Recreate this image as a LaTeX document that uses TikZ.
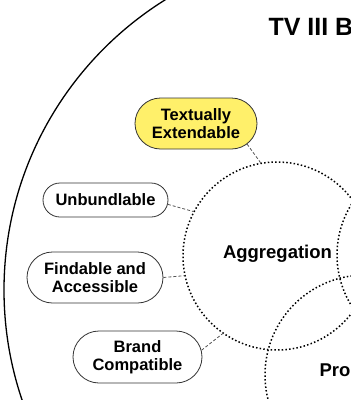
\documentclass[tikz,border=0pt]{standalone}
\usepackage{fontspec}
\setmainfont{Liberation Sans}
\usepackage{tikz}
\usetikzlibrary{shapes.misc}
\definecolor{bubbleFill}{HTML}{FFF06A}
\definecolor{bubbleLine}{HTML}{333333}
\definecolor{linkGray}{HTML}{555555}
\tikzset{
  bubble/.style={rounded rectangle, draw=bubbleLine, line width=0.8pt, fill=white, align=center, inner sep=0pt, font=\bfseries\fontsize{16.5}{18.5}\selectfont},
  venn/.style={circle, draw, line width=1.5pt, dash pattern=on 1.5pt off 2.2pt, inner sep=0pt},
  venntext/.style={font=\bfseries\fontsize{18.5}{20}\selectfont},
  link/.style={draw=linkGray, line width=0.8pt, dash pattern=on 3pt off 2pt},
}

\begin{document}
\begin{tikzpicture}[x=1pt,y=1pt]
  \useasboundingbox (0,-400) rectangle (351,0);
  \clip (0,-400) rectangle (351,0);
  % outer frame
  \draw[line width=1.3pt] (345.7,-290) circle (341.7);
  % venn circles
  \node[venn, minimum size=188pt] (agg) at (277,-256) {};
  \node[venn, minimum size=192pt] (right) at (433,-255) {};
  \node[venn, minimum size=200pt] (promo) at (365,-375) {};
  \node[venntext] (agglabel) at (277.5,-253.3) {Aggregation};
  \node[venntext, anchor=base west] (promolabel) at (316,-376) {Promotion};
  \node[font=\bfseries\fontsize{25}{30}\selectfont, anchor=base west] (title) at (265,-35) {TV III B};
  % attributes
  \node[bubble, fill=bubbleFill, minimum width=122pt, minimum height=51pt] (textual) at (196,-123.5) {Textually\\Extendable};
  \node[bubble, minimum width=125pt, minimum height=34pt] (unbundle) at (105.5,-200) {Unbundlable};
  \node[bubble, minimum width=136pt, minimum height=51pt] (findable) at (95,-277.5) {Findable and\\Accessible};
  \node[bubble, minimum width=129pt, minimum height=52pt] (brand) at (137.5,-357) {Brand\\Compatible};
  % links to the circle
  \draw[link] (textual.-22) -- (agg.100);
  \draw[link] (unbundle.-4) -- (agg.152);
  \draw[link] (findable.east) -- (agg.192);
  \draw[link] (brand.6) -- (agg.235);
\end{tikzpicture}
\end{document}
